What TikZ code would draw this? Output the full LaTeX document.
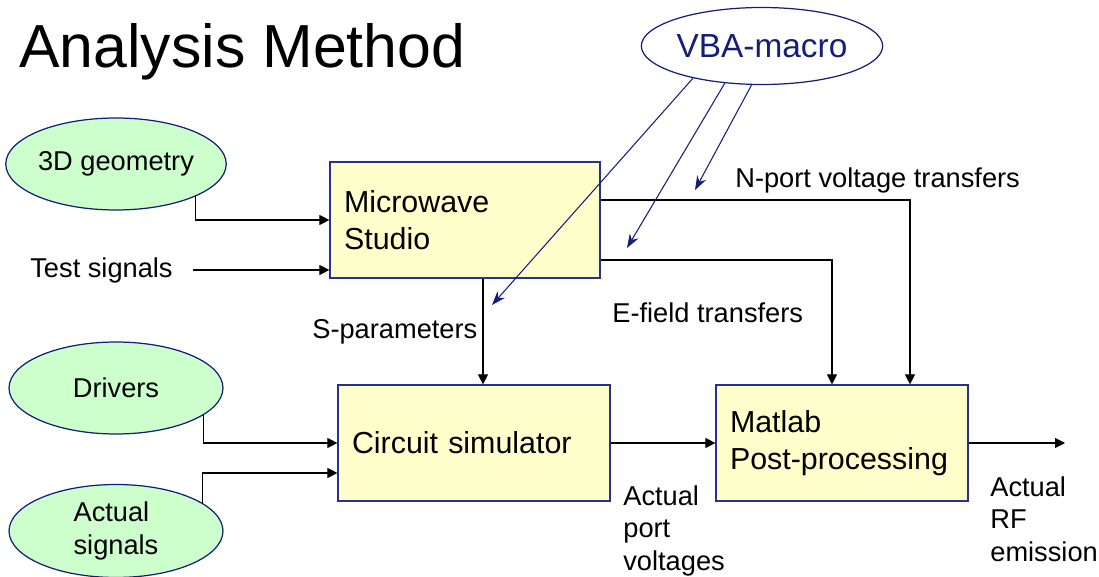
\documentclass[tikz,border=0pt]{standalone}
\usepackage{fontspec}
\setmainfont{Liberation Sans}
\usetikzlibrary{shapes.geometric,arrows.meta}
\definecolor{navyline}{RGB}{20,30,120}
\definecolor{srcgreen}{RGB}{204,255,204}
\definecolor{boxyellow}{RGB}{255,255,204}
\definecolor{boxedge}{RGB}{40,50,140}

\begin{document}
\begin{tikzpicture}[x=0.02cm,y=-0.02cm]

	\tikzstyle{mysrc}=[ellipse,draw=navyline,fill=srcgreen,line width=0.7pt,minimum width=4.28cm,minimum height=1.84cm,inner sep=0pt,align=left,font=\fontsize{15.5}{18.5}\selectfont]
	\tikzstyle{mybox}=[rectangle,draw=boxedge,fill=boxyellow,line width=0.7pt,minimum height=2.32cm,inner xsep=0.28cm,align=left,font=\fontsize{17.3}{21}\selectfont]
	\tikzstyle{mylabel}=[inner sep=0pt,align=left,font=\fontsize{15.5}{18.5}\selectfont]
	\tikzstyle{myarrow}=[line width=0.6pt,-{Triangle[length=0.2cm,width=0.2cm]}]
	\tikzstyle{vbaarrow}=[navyline,line width=0.6pt,-{Stealth[length=0.28cm,width=0.2cm]}]

	\useasboundingbox (0,0) rectangle (1099,577);

	\node[anchor=west,inner sep=0pt,font=\fontsize{34.6}{40}\selectfont] (title) at (19,52) {Analysis Method};
	\node[ellipse,draw=navyline,line width=0.7pt,text=navyline,minimum width=4.66cm,minimum height=1.54cm,inner sep=0pt,font=\fontsize{19}{23}\selectfont] (vba) at (762,46) {VBA-macro};

	\node[mysrc] (geo) at (116,164) {3D geometry};
	\node[mysrc] (drv) at (116,388) {Drivers};
	\node[mysrc,minimum height=1.86cm] (act) at (116,531) {Actual\\signals};

	\node[mybox,text width=4.84cm] (mws) at (465,220) {Microwave\\Studio};
	\node[mybox,text width=4.88cm] (cs) at (474,443) {Circuit simulator};
	\node[mybox,text width=4.48cm] (mp) at (842,443) {Matlab\\Post-processing};

	\node[mylabel,anchor=west] (test) at (30,270) {Test signals};
	\node[mylabel,anchor=west] (spar) at (312,332) {S-parameters};
	\node[mylabel,anchor=west] (nport) at (735,180) {N-port voltage transfers};
	\node[mylabel,anchor=west] (efield) at (612,313) {E-field transfers};
	\node[mylabel,anchor=north west] (apv) at (623,485) {Actual\\port\\voltages};
	\node[mylabel,anchor=north west] (arf) at (990,476) {Actual\\RF\\emission};

	\coordinate (out) at (1065,443);
	\coordinate (tip1) at (492,305);
	\coordinate (tip2) at (627,248);
	\coordinate (tip3) at (695,190);

	% inputs
	\draw[myarrow] (geo.-22) |- (mws.west);
	\draw[myarrow] ([xshift=0.4cm]test.east) -- (test.east -| mws.west);
	\draw[myarrow] (drv.-17) |- (cs.west);
	\draw[myarrow] (act.18) |- ([yshift=-0.6cm]cs.west);

	% transfers
	\draw[myarrow] ([xshift=0.36cm]mws.south) -- ([xshift=0.36cm]mws.south |- cs.north);
	\draw[myarrow] ([yshift=0.4cm]mws.east) -| ([xshift=1.36cm]mp.north);
	\draw[myarrow] ([yshift=-0.8cm]mws.east) -| ([xshift=-0.2cm]mp.north);
	\draw[myarrow] (cs.east) -- (mp.west);
	\draw[myarrow] (mp.east) -- (out);

	% macro control
	\draw[vbaarrow] (vba.205) -- (tip1);
	\draw[vbaarrow] (vba.225) -- (tip2);
	\draw[vbaarrow] (vba.255) -- (tip3);
\end{tikzpicture}
\end{document}
